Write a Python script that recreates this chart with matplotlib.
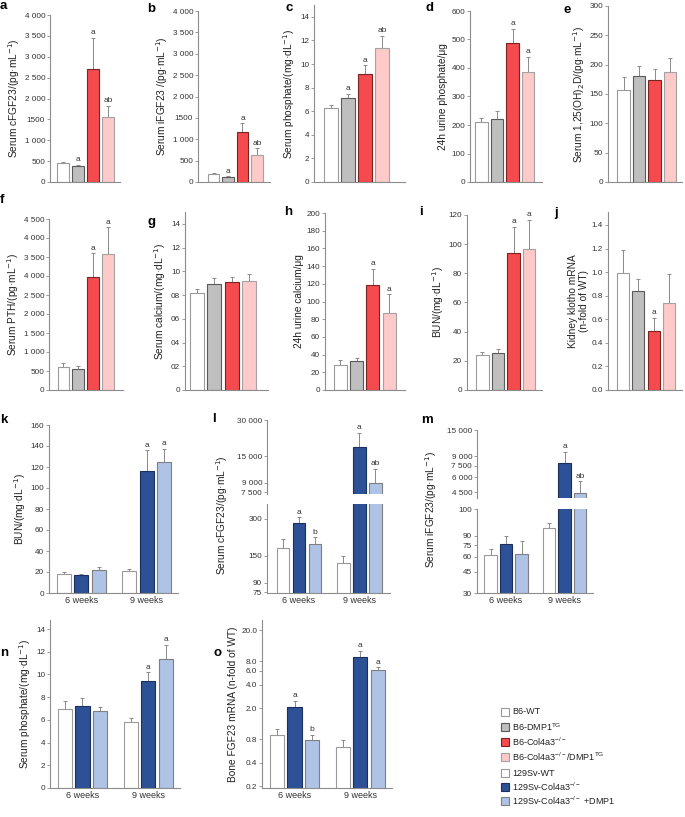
import matplotlib
matplotlib.use("Agg")
import matplotlib.pyplot as plt
from matplotlib.patches import Rectangle
from matplotlib.ticker import NullLocator

plt.rcParams["font.family"] = ["Liberation Sans", "DejaVu Sans"]

W, H = 685, 817
TICK_FS = 5.9
LABEL_FS = 7.3

# groups and colours
B6_LABELS = ["B6-WT", "B6-DMP1$^{\\mathregular{TG}}$", "B6-Col4a3$^{\\mathregular{-/-}}$",
             "B6-Col4a3$^{\\mathregular{-/-}}$/DMP1$^{\\mathregular{TG}}$"]
SV_LABELS = ["129Sv-WT", "129Sv-Col4a3$^{\\mathregular{-/-}}$", "129Sv-Col4a3$^{\\mathregular{-/-}}$ +DMP1"]
WEEKS = ["6 weeks", "9 weeks"]

B6_FACE = ["#ffffff", "#bfbfbf", "#f64b4e", "#fec9c9"]
B6_EDGE = ["#9a9a9a", "#5a5a5a", "#7b2323", "#a3a3a3"]
SV_FACE = ["#ffffff", "#2d5196", "#aec3e5"]
SV_EDGE = ["#9a9a9a", "#1c2f5c", "#7f7f7f"]
ERR_COLOR = "#8a8a8a"

# panels a-j (B6 line): mean, mean + SD, letters
a_mean = [463, 383, 2715, 1557]
a_top = [487, 415, 3450, 1828]
a_sig = ["", "a", "a", "ab"]
b_mean = [179, 109, 1173, 637]
b_top = [210, 132, 1375, 784]
b_sig = ["", "a", "a", "ab"]
c_mean = [6.25, 7.16, 9.18, 11.33]
c_top = [6.5, 7.47, 9.89, 12.36]
c_sig = ["", "a", "a", "ab"]
d_mean = [210, 220, 489, 387]
d_top = [226, 248, 537, 440]
d_sig = ["", "", "a", "a"]
e_mean = [157, 181, 174, 188]
e_top = [179, 197, 193, 211]
e_sig = ["", "", "", ""]
f_mean = [614, 553, 2982, 3570]
f_top = [711, 640, 3596, 4281]
f_sig = ["", "", "a", "a"]
g_mean = [8.2, 8.96, 9.07, 9.21]
g_top = [8.54, 9.41, 9.52, 9.75]
g_sig = ["", "", "", ""]
h_mean = [28.3, 32.8, 118.9, 87.5]
h_top = [34.3, 36.2, 137, 108]
h_sig = ["", "", "a", "a"]
i_mean = [23.9, 25.7, 94, 97]
i_top = [25.9, 28, 112, 116.8]
i_sig = ["", "", "a", "a"]
j_mean = [0.994, 0.836, 0.5, 0.742]
j_top = [1.19, 0.944, 0.61, 0.986]
j_sig = ["", "", "a", ""]

# panels k-o (129Sv line): [6 weeks, 9 weeks]
k_mean = [[18.4, 17.4, 21.5], [20.9, 116, 124.5]]
k_top = [[19.6, 18.4, 24.7], [23.1, 136, 137]]
k_sig = [["", "", ""], ["", "a", "a"]]
l_mean = [[172, 278, 186], [130, 17700, 8900]]
l_top = [[206, 308, 212], [148, 23600, 11700]]
l_sig = [["", "a", "b"], ["", "a", "ab"]]
m_mean = [[62, 76, 63.5], [103.6, 7940, 4450]]
m_top = [[70, 90, 82], [114, 9800, 5560]]
m_sig = [["", "", ""], ["", "a", "ab"]]
n_mean = [[7.0, 7.2, 6.8], [5.8, 9.4, 11.4]]
n_top = [[7.7, 7.9, 7.1], [6.2, 10.2, 12.6]]
n_sig = [["", "", ""], ["", "a", "a"]]
o_mean = [[0.9, 2.1, 0.78], [0.63, 9.0, 6.1]]
o_top = [[1.08, 2.5, 0.92], [0.78, 10.8, 6.7]]
o_sig = [["", "a", "b"], ["", "a", "a"]]

# tick labels
thousands_4000 = ["0", "500", "1 000", "1500", "2 000", "2 500", "3 000", "3 500", "4 000"]
pth_ticks = ["0", "500", "1 000", "1 500", "2 000", "2 500", "4 000", "3 500", "4 000", "4 500"]
calcium_ticks = ["0", "02", "04", "06", "08", "10", "12", "14"]
l_up_ticks, l_up_labels = [7500, 9000, 15000, 30000], ["7 500", "9 000", "15 000", "30 000"]
l_lo_ticks, l_lo_labels = [75, 90, 150, 300], ["75", "90", "150", "300"]
m_up_ticks, m_up_labels = [4500, 6000, 7500, 9000, 15000], ["4 500", "6 000", "7 500", "9 000", "15 000"]
m_lo_ticks, m_lo_labels = [30, 45, 60, 75, 90, 150], ["30", "45", "60", "75", "90", "100"]
o_ticks, o_labels = [0.2, 0.4, 0.8, 2, 4, 6, 8, 20], ["0.2", "0.4", "0.8", "2.0", "4.0", "6.0", "8.0", "20.0"]

fig = plt.figure(figsize=(W / 100, H / 100), dpi=100)


def px_rect(left, top, right, bottom):
    return [left / W, 1 - bottom / H, (right - left) / W, (bottom - top) / H]


def new_axes(box, xlim, bottom_spine=True):
    ax = fig.add_axes(px_rect(*box))
    ax.patch.set_alpha(0)
    for s in ("top", "right"):
        ax.spines[s].set_visible(False)
    ax.spines["bottom"].set_visible(bottom_spine)
    for s in ("left", "bottom"):
        ax.spines[s].set_color("#8c8c8c")
        ax.spines[s].set_linewidth(0.8)
    ax.tick_params(axis="y", length=2, width=0.6, color="#8c8c8c",
                   labelsize=TICK_FS, pad=1.5, labelcolor="#333333")
    ax.tick_params(axis="x", length=0, labelsize=6.5, pad=2, labelcolor="#333333")
    ax.set_xlim(xlim)
    ax.set_xticks([])
    return ax


def draw_bars(ax, xs, mean, top, sig, faces, edges, base=0):
    ax.bar(xs, [m - base for m in mean], bottom=base, width=0.8, color=faces,
           edgecolor=edges, linewidth=0.8, zorder=2)
    up = [t - m for t, m in zip(top, mean)]
    ax.errorbar(xs, mean, yerr=[[0] * len(mean), up], fmt="none", ecolor=ERR_COLOR,
                elinewidth=0.7, capsize=1.5, capthick=0.7, zorder=1)
    for x, t, s in zip(xs, top, sig):
        if s:
            ax.annotate(s, (x, t), xytext=(0, 1.2), textcoords="offset points",
                        ha="center", va="bottom", fontsize=6, color="#333333")


def draw_grouped(ax, mean, top, sig, offset, base=0):
    for g in range(2):
        xs = [g * offset + i - 1 for i in range(3)]
        draw_bars(ax, xs, mean[g], top[g], sig[g], SV_FACE, SV_EDGE, base)


def set_log(ax, lim, ticks, labels):
    ax.set_yscale("log")
    ax.set_ylim(lim)
    ax.set_yticks(ticks, labels)
    ax.yaxis.set_minor_locator(NullLocator())


# ---- panels a-j ----
single = [
    # box (l, t, r, b), xlim, ylim, yticks, tick labels, ylabel, data
    ((50, 15, 120, 182), (-0.87, 3.8), (0, 4000), range(0, 4001, 500), thousands_4000,
     "Serum cFGF23/(pg·mL$^{-1}$)", a_mean, a_top, a_sig),
    ((198, 11, 270, 182), (-1.07, 3.9), (0, 4000), range(0, 4001, 500), thousands_4000,
     "Serum iFGF23 /(pg·mL$^{-1}$)", b_mean, b_top, b_sig),
    ((314, 5, 405, 182), (-1.0, 4.35), (0, 15), range(0, 15, 2), None,
     "Serum phosphate/(mg·dL$^{-1}$)", c_mean, c_top, c_sig),
    ((470, 11, 542, 182), (-0.74, 3.9), (0, 600), range(0, 601, 100), None,
     "24h urine phosphate/μg", d_mean, d_top, d_sig),
    ((608, 6, 682, 182), (-1.0, 3.76), (0, 300), range(0, 301, 50), None,
     "Serum 1,25(OH)$_2$D/(pg·mL$^{-1}$)", e_mean, e_top, e_sig),
    ((49, 219, 123, 390), (-0.98, 4.03), (0, 4500), range(0, 4501, 500), pth_ticks,
     "Serum PTH/(pg·mL$^{-1}$)", f_mean, f_top, f_sig),
    ((185, 212, 268, 390), (-0.7, 4.1), (0, 15), range(0, 15, 2), calcium_ticks,
     "Serum calcium/(mg·dL$^{-1}$)", g_mean, g_top, g_sig),
    ((325, 213, 405, 390), (-0.95, 3.97), (0, 200), range(0, 201, 20), None,
     "24h urine calcium/μg", h_mean, h_top, h_sig),
    ((467, 215, 542, 390), (-0.98, 3.82), (0, 120), range(0, 121, 20), None,
     "BUN/(mg·dL$^{-1}$)", i_mean, i_top, i_sig),
    ((608, 212, 682, 390), (-0.99, 3.86), (0, 1.51), [0, 0.2, 0.4, 0.6, 0.8, 1.0, 1.2, 1.4],
     ["0.0", "0.2", "0.4", "0.6", "0.8", "1.0", "1.2", "1.4"],
     "Kidney klotho mRNA\n(n-fold of WT)", j_mean, j_top, j_sig),
]

for box, xlim, ylim, ticks, labels, ylabel, mean, top, sig in single:
    ax = new_axes(box, xlim)
    draw_bars(ax, range(4), mean, top, sig, B6_FACE, B6_EDGE)
    ax.set_ylim(ylim)
    ticks = list(ticks)
    if labels is None:
        labels = [str(t) for t in ticks]
    ax.set_yticks(ticks, labels)
    ax.set_ylabel(ylabel, fontsize=LABEL_FS, labelpad=2, color="#222222", linespacing=1.1)

# ---- k ----
ax = new_axes((49, 425, 178, 593), (-1.85, 5.55))
draw_grouped(ax, k_mean, k_top, k_sig, 3.75)
ax.set_ylim(0, 160)
ax.set_yticks(range(0, 161, 20))
ax.set_xticks([0, 3.75], WEEKS)
ax.set_ylabel("BUN/(mg·dL$^{-1}$)", fontsize=LABEL_FS, labelpad=2, color="#222222")

# ---- l (broken log axis) ----
ax_up = new_axes((267, 420, 390, 494), (-2.0, 5.7), bottom_spine=False)
draw_grouped(ax_up, l_mean, l_top, l_sig, 3.78, base=1)
set_log(ax_up, (7250, 30000), l_up_ticks, l_up_labels)
ax_lo = new_axes((267, 504, 390, 593), (-2.0, 5.7))
draw_grouped(ax_lo, l_mean, l_top, l_sig, 3.78, base=1)
set_log(ax_lo, (74, 397), l_lo_ticks, l_lo_labels)
ax_lo.set_xticks([0, 3.78], WEEKS)
fig.text(222 / W, 1 - 515 / H, "Serum cFGF23/(pg·mL$^{-1}$)", rotation=90,
         ha="center", va="center", fontsize=LABEL_FS, color="#222222")

# ---- m (broken log axis) ----
ax_up = new_axes((477, 430, 593, 498), (-1.87, 5.6), bottom_spine=False)
draw_grouped(ax_up, m_mean, m_top, m_sig, 3.77, base=1)
set_log(ax_up, (4040, 15000), m_up_ticks, m_up_labels)
ax_lo = new_axes((477, 509, 593, 593), (-1.87, 5.6))
draw_grouped(ax_lo, m_mean, m_top, m_sig, 3.77, base=1)
set_log(ax_lo, (30, 150), m_lo_ticks, m_lo_labels)
ax_lo.set_xticks([0, 3.77], WEEKS)
fig.text(431 / W, 1 - 510 / H, "Serum iFGF23/(pg·mL$^{-1}$)", rotation=90,
         ha="center", va="center", fontsize=LABEL_FS, color="#222222")

# ---- n ----
ax = new_axes((50, 620, 180, 788), (-1.85, 5.55))
draw_grouped(ax, n_mean, n_top, n_sig, 3.75)
ax.set_ylim(0, 14.8)
ax.set_yticks(range(0, 15, 2))
ax.set_xticks([0, 3.75], WEEKS)
ax.set_ylabel("Serum phosphate/(mg·dL$^{-1}$)", fontsize=LABEL_FS, labelpad=2, color="#222222")

# ---- o ----
ax = new_axes((262, 620, 392, 788), (-1.85, 5.55))
draw_grouped(ax, o_mean, o_top, o_sig, 3.75, base=0.01)
set_log(ax, (0.19, 27), o_ticks, o_labels)
ax.set_xticks([0, 3.75], WEEKS)
ax.set_ylabel("Bone FGF23 mRNA (n-fold of WT)", fontsize=LABEL_FS, labelpad=2, color="#222222")

# ---- panel letters ----
letters = [("a", 0, 0), ("b", 147, 3), ("c", 286, 2), ("d", 426, 2), ("e", 564, 4),
           ("f", 0, 194), ("g", 147, 216), ("h", 284, 206), ("i", 419, 206), ("j", 554, 207),
           ("k", 0, 414), ("l", 212, 413), ("m", 421, 414), ("n", 0, 647), ("o", 214, 647)]
for s, x, y in letters:
    fig.text(x / W, 1 - y / H, s, fontsize=9.5, fontweight="bold", va="top", ha="left")

# ---- legend ----
for (y, k) in [(712, 0), (727, 1), (742, 2), (757, 3)]:
    fig.add_artist(Rectangle((501 / W, 1 - (y + 4) / H), 8 / W, 8 / H, transform=fig.transFigure,
                             facecolor=B6_FACE[k], edgecolor=B6_EDGE[k], lw=0.8))
    fig.text(512 / W, 1 - y / H, B6_LABELS[k], fontsize=6.5, va="center", color="#222222")
for (y, k) in [(773, 0), (787, 1), (801, 2)]:
    fig.add_artist(Rectangle((501 / W, 1 - (y + 4) / H), 8 / W, 8 / H, transform=fig.transFigure,
                             facecolor=SV_FACE[k], edgecolor=SV_EDGE[k], lw=0.8))
    fig.text(512 / W, 1 - y / H, SV_LABELS[k], fontsize=6.5, va="center", color="#222222")

fig.savefig("out.png", dpi=100)
